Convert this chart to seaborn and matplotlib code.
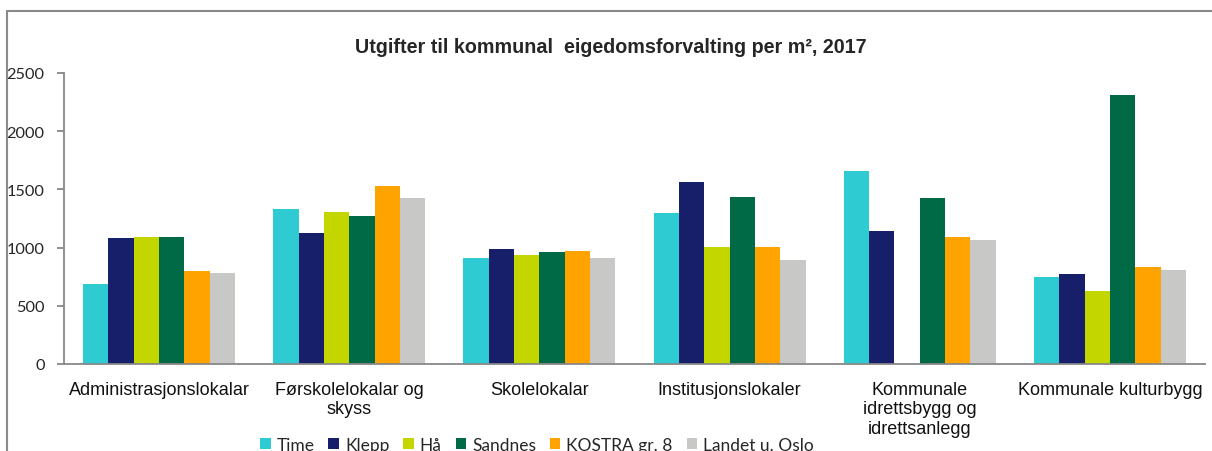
import numpy as np
import pandas as pd
import matplotlib
matplotlib.use("Agg")
import matplotlib.pyplot as plt
import matplotlib.patches as mpatches
import seaborn as sns

categories = ["Administrasjonslokalar", "Førskolelokalar og\nskyss", "Skolelokalar",
              "Institusjonslokaler", "Kommunale\nidrettsbygg og\nidrettsanlegg",
              "Kommunale kulturbygg"]
series = ["Time", "Klepp", "Hå", "Sandnes", "KOSTRA gr. 8", "Landet u. Oslo"]
time_vals = [687, 1329, 913, 1294, 1661, 747]
klepp_vals = [1080, 1128, 985, 1566, 1140, 770]
haa_vals = [1091, 1306, 936, 1008, np.nan, 630]
sandnes_vals = [1091, 1268, 962, 1435, 1423, 2314]
kostra_vals = [796, 1529, 971, 1008, 1091, 830]
landet_vals = [782, 1423, 913, 890, 1069, 807]
colors = ["#2ECBD3", "#171F6B", "#C4D600", "#006A47", "#FFA300", "#C8C8C6"]
title = "Utgifter til kommunal  eigedomsforvalting per m², 2017"
yticks = [0, 500, 1000, 1500, 2000, 2500]

values = [time_vals, klepp_vals, haa_vals, sandnes_vals, kostra_vals, landet_vals]
rows = []
for s, vals in zip(series, values):
    for c, v in zip(categories, vals):
        rows.append({"Kategori": c, "Serie": s, "Verdi": v})
df = pd.DataFrame(rows)

sns.set_theme(style="white")
plt.rcParams["font.family"] = ["Liberation Sans", "DejaVu Sans"]

fig = plt.figure(figsize=(12.12, 4.52), dpi=100)
ax = fig.add_axes([64/1212, 1 - 365/452, (1205 - 64)/1212, (365 - 74)/452])

sns.barplot(data=df, x="Kategori", y="Verdi", hue="Serie", order=categories,
            hue_order=series, palette=colors, saturation=1, width=0.8,
            errorbar=None, linewidth=0, ax=ax)

ax.set_ylim(0, 2500)
ax.set_xlim(-0.5, len(categories) - 0.5)
ax.set_yticks(yticks)
ax.set_yticklabels([str(t) for t in yticks], fontfamily="Lato", fontsize=11.8)
ax.set_xticks(range(len(categories)))
ax.set_xticklabels(categories, fontsize=13, linespacing=1.2)
ax.set_xticks(np.arange(-0.5, len(categories)), minor=True)
ax.tick_params(axis="x", which="major", length=0, pad=12, colors="#111111")
ax.tick_params(axis="x", which="minor", length=5, width=1.3, color="#888888", direction="out")
ax.tick_params(axis="y", which="major", length=5, width=1.3, color="#888888", pad=9,
               left=True, direction="out")
ax.set_xlabel("")
ax.set_ylabel("")
for sp in ["top", "right"]:
    ax.spines[sp].set_visible(False)
for sp in ["left", "bottom"]:
    ax.spines[sp].set_color("#888888")
    ax.spines[sp].set_linewidth(1.3)

handles, labels = ax.get_legend_handles_labels()
ax.get_legend().remove()
fig.legend(handles, labels, loc="center", bbox_to_anchor=(537/1212, 1 - 446/452),
           ncol=6, frameon=False, handlelength=0.6, handleheight=0.6,
           handletextpad=0.35, columnspacing=0.8, prop={"family": "Lato", "size": 12.5})

fig.text(611/1212, 1 - 48/452, title, ha="center", va="center",
         fontsize=14.2, fontweight="bold")

border = mpatches.Rectangle((7/1212, -0.2), 1.2, 0.2 + (1 - 12/452), transform=fig.transFigure,
                            fill=False, edgecolor="#8a8a8a", linewidth=1.5)
fig.add_artist(border)

fig.savefig("out.png", dpi=100)
